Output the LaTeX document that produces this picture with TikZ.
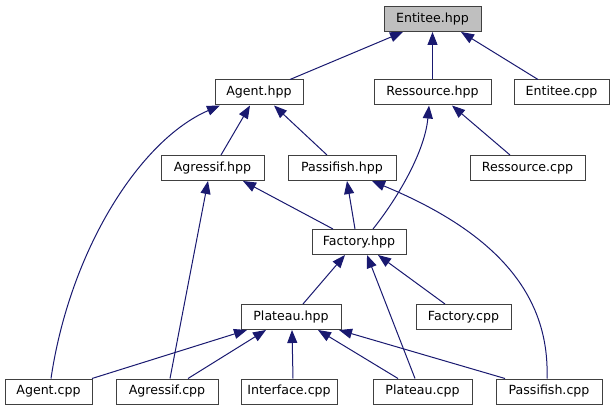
\documentclass[tikz,border=0pt]{standalone}
\usepackage{fontspec}
\setmainfont{DejaVu Sans}
\usetikzlibrary{arrows.meta}
\definecolor{edgeblue}{HTML}{191970}
\definecolor{hdrgray}{HTML}{BFBFBF}
\tikzset{
  file/.style={draw=black!75, line width=1pt, fill=white, minimum height=25pt, inner sep=0pt, font=\fontsize{12.6}{15}\selectfont},
  dep/.style={draw=edgeblue, line width=1pt, -{Triangle[length=13pt,width=10pt]}}
}
\begin{document}
\begin{tikzpicture}[x=1pt,y=-1pt]
        \useasboundingbox (0,0) rectangle (615,411);
        \node[file, fill=hdrgray, minimum width=97pt] (enthpp) at (432.5,19) {Entitee.hpp};
        \node[file, minimum width=88pt] (agenthpp) at (259,92.5) {Agent.hpp};
        \node[file, minimum width=117pt] (reshpp) at (432.5,92.5) {Ressource.hpp};
        \node[file, minimum width=95pt] (entcpp) at (561.5,92.5) {Entitee.cpp};
        \node[file, minimum width=103pt] (agrhpp) at (212.5,168) {Agressif.hpp};
        \node[file, minimum width=108pt] (pashpp) at (342,168) {Passifish.hpp};
        \node[file, minimum width=115pt] (rescpp) at (527.5,168) {Ressource.cpp};
        \node[file, minimum width=94pt] (fachpp) at (359,242) {Factory.hpp};
        \node[file, minimum width=100pt] (plathpp) at (291,317) {Plateau.hpp};
        \node[file, minimum width=95pt] (faccpp) at (463.5,317) {Factory.cpp};
        \node[file, minimum width=87pt] (agentcpp) at (48.5,391.5) {Agent.cpp};
        \node[file, minimum width=102pt] (agrcpp) at (167,391.5) {Agressif.cpp};
        \node[file, minimum width=96pt] (intcpp) at (289,391.5) {Interface.cpp};
        \node[file, minimum width=99pt] (platcpp) at (422.5,391.5) {Plateau.cpp};
        \node[file, minimum width=106pt] (pascpp) at (549,391.5) {Passifish.cpp};
        \draw[dep] ([xshift=31pt]agenthpp.north) -- ([xshift=-29.5pt]enthpp.south);
        \draw[dep] (reshpp.north) -- (enthpp.south);
        \draw[dep] ([xshift=-23.5pt]entcpp.north) -- ([xshift=28.5pt]enthpp.south);
        \draw[dep] ([xshift=8.5pt]agrhpp.north) -- ([xshift=-9pt]agenthpp.south);
        \draw[dep] ([xshift=-15pt]pashpp.north) -- ([xshift=15pt]agenthpp.south);
        \draw[dep] ([xshift=2.5pt]agentcpp.north) .. controls (70,250) and (140,140) .. ([xshift=-39pt]agenthpp.south);
        \draw[dep] ([xshift=-17.5pt]rescpp.north) -- ([xshift=19.5pt]reshpp.south);
        \draw[dep] ([xshift=-26pt]fachpp.north) -- ([xshift=30.5pt]agrhpp.south);
        \draw[dep] ([xshift=-4pt]fachpp.north) -- ([xshift=5pt]pashpp.south);
        \draw[dep] ([xshift=14pt]fachpp.north) .. controls (400,195) and (425,150) .. ([xshift=-3.5pt]reshpp.south);
        \draw[dep] ([xshift=3pt]agrcpp.north) -- ([xshift=-4.5pt]agrhpp.south);
        \draw[dep] ([xshift=-2pt]pascpp.north) .. controls (550,290) and (490,230) .. ([xshift=30pt]pashpp.south);
        \draw[dep] ([xshift=12pt]plathpp.north) -- ([xshift=-14pt]fachpp.south);
        \draw[dep] ([xshift=-7.5pt]platcpp.north) -- ([xshift=8pt]fachpp.south);
        \draw[dep] ([xshift=-18.5pt]faccpp.north) -- ([xshift=19pt]fachpp.south);
        \draw[dep] ([xshift=43.5pt]agentcpp.north) -- ([xshift=-44pt]plathpp.south);
        \draw[dep] ([xshift=21pt]agrcpp.north) -- ([xshift=-25pt]plathpp.south);
        \draw[dep] ([xshift=4pt]intcpp.north) -- ([xshift=1pt]plathpp.south);
        \draw[dep] ([xshift=-24.5pt]platcpp.north) -- ([xshift=27pt]plathpp.south);
        \draw[dep] ([xshift=-44pt]pascpp.north) -- ([xshift=48pt]plathpp.south);
\end{tikzpicture}
\end{document}
